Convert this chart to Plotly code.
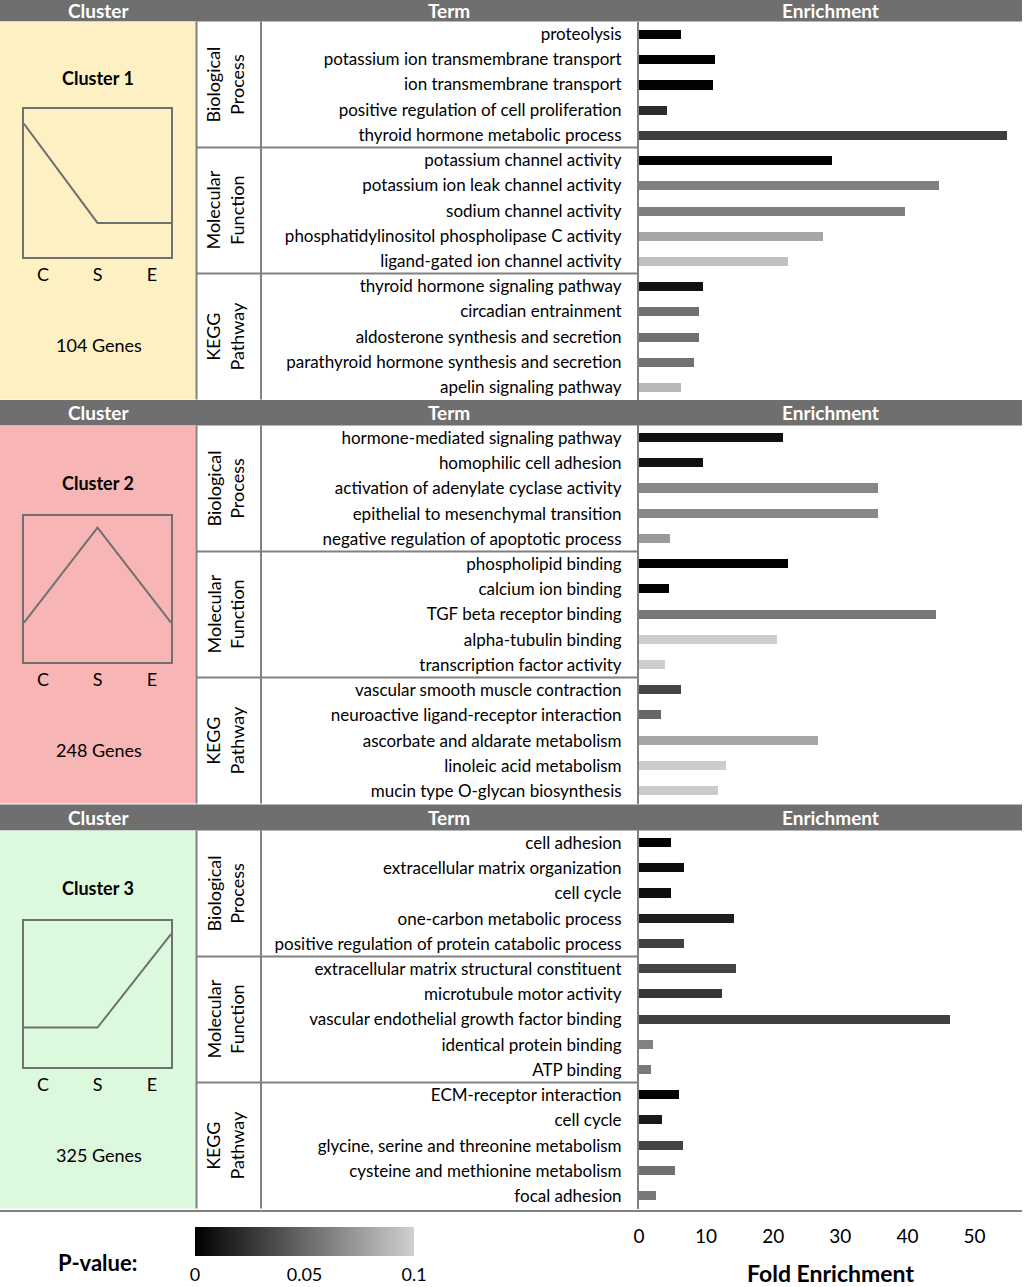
import plotly.graph_objects as go

# figure size in px, paper coords are computed from pixel positions
W, H = 1024, 1287

cluster_names = ["Cluster 1", "Cluster 2", "Cluster 3"]
gene_counts = ["104 Genes", "248 Genes", "325 Genes"]
cluster_colors = ["#fdf1c4", "#f8b5b5", "#ddf9dd"]
categories = ["Biological<br>Process", "Molecular<br>Function", "KEGG<br>Pathway"]

# expression profile of each cluster (Control, S, E)
stages = ["C", "S", "E"]
profile1 = [0.9, 0.23, 0.23]
profile2 = [0.27, 0.92, 0.27]
profile3 = [0.27, 0.27, 0.91]

terms1 = ["proteolysis", "potassium ion transmembrane transport", "ion transmembrane transport",
          "positive regulation of cell proliferation", "thyroid hormone metabolic process",
          "potassium channel activity", "potassium ion leak channel activity", "sodium channel activity",
          "phosphatidylinositol phospholipase C activity", "ligand-gated ion channel activity",
          "thyroid hormone signaling pathway", "circadian entrainment", "aldosterone synthesis and secretion",
          "parathyroid hormone synthesis and secretion", "apelin signaling pathway"]
fold1 = [6.2, 11.4, 11.0, 4.1, 54.9, 28.8, 44.7, 39.7, 27.4, 22.2, 9.6, 9.0, 8.9, 8.2, 6.2]
pval1 = [0.001, 0.001, 0.001, 0.02, 0.03, 0.001, 0.061, 0.061, 0.08, 0.092,
         0.008, 0.054, 0.054, 0.055, 0.088]

terms2 = ["hormone-mediated signaling pathway", "homophilic cell adhesion", "activation of adenylate cyclase activity",
          "epithelial to mesenchymal transition", "negative regulation of apoptotic process",
          "phospholipid binding", "calcium ion binding", "TGF beta receptor binding", "alpha-tubulin binding",
          "transcription factor activity", "vascular smooth muscle contraction",
          "neuroactive ligand-receptor interaction", "ascorbate and aldarate metabolism",
          "linoleic acid metabolism", "mucin type O-glycan biosynthesis"]
fold2 = [21.4, 9.5, 35.6, 35.6, 4.6, 22.2, 4.5, 44.3, 20.5, 3.9, 6.3, 3.3, 26.7, 13.0, 11.8]
pval2 = [0.008, 0.008, 0.065, 0.065, 0.074, 0.001, 0.001, 0.057, 0.099, 0.099,
         0.033, 0.049, 0.08, 0.098, 0.097]

terms3 = ["cell adhesion", "extracellular matrix organization", "cell cycle", "one-carbon metabolic process",
          "positive regulation of protein catabolic process", "extracellular matrix structural constituent",
          "microtubule motor activity", "vascular endothelial growth factor binding", "identical protein binding",
          "ATP binding", "ECM-receptor interaction", "cell cycle", "glycine, serine and threonine metabolism",
          "cysteine and methionine metabolism", "focal adhesion"]
fold3 = [4.7, 6.7, 4.7, 14.1, 6.7, 14.5, 12.4, 46.3, 2.1, 1.8, 5.9, 3.4, 6.6, 5.4, 2.6]
pval3 = [0.001, 0.006, 0.007, 0.014, 0.031, 0.032, 0.026, 0.031, 0.062, 0.058,
         0.001, 0.012, 0.032, 0.054, 0.058]

terms = [terms1, terms2, terms3]
folds = [fold1, fold2, fold3]
pvals = [pval1, pval2, pval3]
profiles = [profile1, profile2, profile3]


def X(x):
    return x / W


def Y(y):
    return 1 - y / H


def note(x, y, text, size, color="black", angle=0):
    return dict(x=X(x), y=Y(y), xref="paper", yref="paper", text=text, showarrow=False,
                xanchor="center", yanchor="middle", textangle=angle,
                font=dict(color=color, size=size, family=FONT))


FONT = "Lato"
GRAY = "#808080"
HDR = "#6f6f6f"

hdr = [(-4, 21.5), (400, 425.4), (804.5, 830.4)]
body = [(21.5, 399.6), (425.4, 803.6), (830.4, 1208.6)]
boxes = [(109, 257), (516, 662), (921, 1067)]
title_y = [78, 483, 888]
genes_y = [345, 750, 1155]

fig = go.Figure()
shapes = []
annotations = []
yaxes = ["y", "y2", "y3"]

for k in range(3):
    top, bot = body[k]
    pitch = (bot - top) / 15
    # header bar
    shapes.append(dict(type="rect", xref="paper", yref="paper", x0=0, x1=X(1022),
                       y0=Y(hdr[k][1]), y1=Y(hdr[k][0]), fillcolor=HDR, line_width=0, layer="below"))
    hy = max(hdr[k][0], 0) / 2 + hdr[k][1] / 2 if k == 0 else (hdr[k][0] + hdr[k][1]) / 2
    for txt, xc in [("Cluster", 98), ("Term", 449), ("Enrichment", 830)]:
        annotations.append(note(xc, hy, "<b>%s</b>" % txt, 19, color="white"))
    # coloured cluster cell
    shapes.append(dict(type="rect", xref="paper", yref="paper", x0=0, x1=X(195.5),
                       y0=Y(bot), y1=Y(top), fillcolor=cluster_colors[k], line_width=0, layer="below"))
    # cell borders
    for xv in [196.5, 261]:
        shapes.append(dict(type="line", xref="paper", yref="paper", x0=X(xv), x1=X(xv),
                           y0=Y(bot), y1=Y(top), line=dict(color=GRAY, width=2)))
    for g in [1, 2]:
        ys = top + 5 * g * pitch
        shapes.append(dict(type="line", xref="paper", yref="paper", x0=X(196.5), x1=X(639),
                           y0=Y(ys), y1=Y(ys), line=dict(color=GRAY, width=2)))
    for g in range(3):
        annotations.append(note(225, top + pitch * (2.5 + 5 * g), categories[g], 18, angle=-90))
    annotations.append(note(98, title_y[k], "<b>%s</b>" % cluster_names[k], 18))
    annotations.append(note(99, genes_y[k], gene_counts[k], 18))

    # enrichment bars
    fig.add_trace(go.Bar(
        x=folds[k], y=list(range(15)), orientation="h", width=0.36,
        xaxis="x", yaxis=yaxes[k],
        marker=dict(color=pvals[k], colorscale=[[0, "#000000"], [1, "#d0d0d0"]],
                    cmin=0, cmax=0.1, showscale=(k == 0), line_width=0,
                    colorbar=dict(orientation="h", x=X(195), xanchor="left", y=Y(1226.5), yanchor="top",
                                  len=219 / W, lenmode="fraction", thickness=29, outlinewidth=0,
                                  xpad=0, ypad=0, tickvals=[0, 0.05, 0.1], ticktext=["0", "0.05", "0.1"],
                                  ticks="outside", ticklen=4, tickcolor="rgba(0,0,0,0)",
                                  tickfont=dict(size=18, family=FONT, color="black"))),
        showlegend=False))

    # cluster profile
    fig.add_trace(go.Scatter(x=[0, 1, 2], y=profiles[k], mode="lines",
                             line=dict(color="#707070", width=2),
                             xaxis="x%d" % (k + 4), yaxis="y%d" % (k + 4), showlegend=False))

# bottom rule
shapes.append(dict(type="line", xref="paper", yref="paper", x0=0, x1=X(1022), y0=Y(1211), y1=Y(1211),
                   line=dict(color=GRAY, width=2)))
annotations.append(note(97, 1262, "<b>P-value:</b>", 22))

layout = dict(
    width=W, height=H, margin=dict(l=0, r=0, t=0, b=0, autoexpand=False),
    paper_bgcolor="white", plot_bgcolor="rgba(0,0,0,0)",
    font=dict(family=FONT, color="black"),
    shapes=shapes, annotations=annotations, bargap=0,
    xaxis=dict(domain=[X(639), X(1022)], range=[0, 383 / 6.71], anchor="y3",
               tickvals=[0, 10, 20, 30, 40, 50], showgrid=False, zeroline=False, showline=False,
               ticks="", ticklabelstandoff=14, tickfont=dict(size=19),
               title=dict(text="<b>Fold Enrichment</b>", font=dict(size=23), standoff=31)),
)
for k in range(3):
    top, bot = body[k]
    name = "yaxis" if k == 0 else "yaxis%d" % (k + 1)
    layout[name] = dict(domain=[Y(bot), Y(top)], anchor="x", range=[14.5, -0.5],
                        tickvals=list(range(15)), ticktext=terms[k], showgrid=False, zeroline=False,
                        showline=True, linecolor=GRAY, linewidth=2, ticks="",
                        ticklabelstandoff=12, tickfont=dict(size=17))
    b0, b1 = boxes[k]
    layout["xaxis%d" % (k + 4)] = dict(domain=[X(24), X(171)], anchor="y%d" % (k + 4), range=[0, 2],
                                       tickvals=[0.26, 1, 1.74], ticktext=stages, showgrid=False,
                                       zeroline=False, showline=True, mirror=True, linecolor="#707070",
                                       linewidth=2, ticks="", tickfont=dict(size=18))
    layout["yaxis%d" % (k + 4)] = dict(domain=[Y(b1), Y(b0)], anchor="x%d" % (k + 4), range=[0, 1],
                                       showticklabels=False, showgrid=False, zeroline=False,
                                       showline=True, mirror=True, linecolor="#707070", linewidth=2)

fig.update_layout(**layout)
# drop the default page margin so the figure fills the window exactly
fig.write_html("out.html", config={"displayModeBar": False},
               post_script="document.body.style.margin='0';")
